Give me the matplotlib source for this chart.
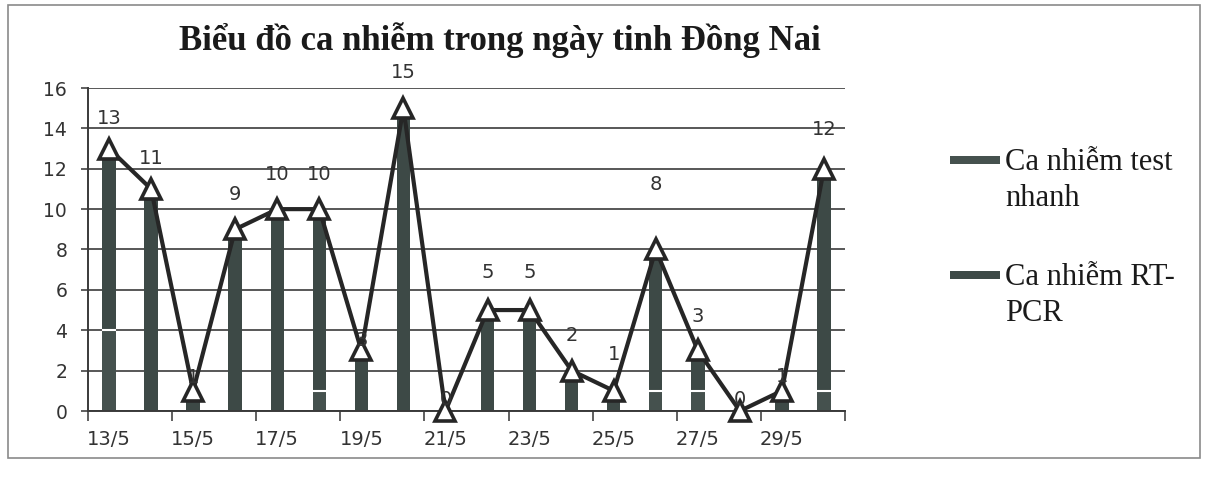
import numpy as np
import matplotlib.pyplot as plt
from matplotlib.patches import Rectangle

# dữ liệu
days = ['13/5', '14/5', '15/5', '16/5', '17/5', '18/5', '19/5', '20/5', '21/5',
        '22/5', '23/5', '24/5', '25/5', '26/5', '27/5', '28/5', '29/5', '30/5']
total = [13, 11, 1, 9, 10, 10, 3, 15, 0, 5, 5, 2, 1, 8, 3, 0, 1, 12]
test_nhanh = [4, 0, 0, 0, 0, 1, 0, 0, 0, 0, 0, 0, 0, 1, 1, 0, 0, 1]
rt_pcr = [t - q for t, q in zip(total, test_nhanh)]
series_names = ['Ca nhiễm test\nnhanh', 'Ca nhiễm RT-\nPCR']

# dịch nhãn số liệu lên trên (px) - nhãn trong bản gốc được kéo tay
label_dy = [30, 30, 13, 35, 35, 35, 10, 36, 12, 38, 38, 35, 36, 65, 34, 12, 14, 39]

W, H = 1207, 486
fig = plt.figure(figsize=(W / 100, H / 100), dpi=100)
fig.patch.set_facecolor('white')
fig.add_artist(Rectangle((8 / W, 1 - 458 / H), 1192 / W, 453 / H,
                         transform=fig.transFigure, fill=False,
                         edgecolor='#8a8a8a', linewidth=1.2))

ax = fig.add_axes([88 / W, 1 - 411 / H, (845 - 88) / W, (411 - 88) / H])

x = np.arange(len(days))
colors = ['#45514e', '#3d4946']
w = 0.32
ax.bar(x, test_nhanh, width=w, color=colors[0], zorder=2)
ax.bar(x, rt_pcr, width=w, bottom=test_nhanh, color=colors[1], zorder=2)

# vạch trắng giữa hai phần cột
tn = np.array(test_nhanh)
rp = np.array(rt_pcr)
m = (tn > 0) & (rp > 0)
ax.hlines(tn[m], x[m] - w / 2, x[m] + w / 2, color='white', linewidth=1.5, zorder=3)

ax.plot(x, total, color='#262626', linewidth=3, marker='^', markersize=14,
        markerfacecolor='white', markeredgecolor='#262626', markeredgewidth=2.6,
        zorder=4, clip_on=False)

for xi, v, dy in zip(x, total, label_dy):
    ax.annotate(str(v), (xi, v), xytext=(0, dy * 0.72), textcoords='offset points',
                ha='center', va='center', fontsize=14, color='#333333',
                family='DejaVu Sans', zorder=6, annotation_clip=False)

ax.set_xlim(-0.5, len(days) - 0.5)
ax.set_ylim(0, 16)
ax.set_yticks(range(0, 17, 2))
ax.yaxis.grid(True, color='#4a4a4a', linewidth=1.3)
ax.set_axisbelow(True)

ax.set_xticks(x[::2])
ax.set_xticklabels(days[::2])
ax.set_xticks(np.arange(-0.5, len(days), 2), minor=True)
ax.tick_params(axis='x', which='major', length=0, pad=14, labelsize=14,
               colors='#333333')
ax.tick_params(axis='x', which='minor', length=7, width=1.2, color='#444444')
ax.tick_params(axis='y', length=5, width=1.2, color='#444444', labelsize=13.5,
               labelcolor='#333333', pad=10)

for s in ['top', 'right']:
    ax.spines[s].set_visible(False)
for s in ['left', 'bottom']:
    ax.spines[s].set_color('#3a3a3a')
    ax.spines[s].set_linewidth(1.4)
    ax.spines[s].set_zorder(3)

fig.text(500 / W, 1 - 40 / H, 'Biểu đồ ca nhiễm trong ngày tinh Đồng Nai',
         ha='center', va='center', fontsize=25, fontweight='bold',
         family='Liberation Serif', color='#1a1a1a')

# chú thích: ô màu nằm ngang dòng đầu của nhãn
for i, (name, c) in enumerate(zip(series_names, colors)):
    y0 = 1 - (160 + i * 115) / H
    fig.add_artist(Rectangle((950 / W, y0 - 4 / H), 50 / W, 8 / H,
                             transform=fig.transFigure, facecolor=c,
                             edgecolor='none'))
    fig.text(1005 / W, y0 + 12 / H, name, ha='left', va='top',
             fontsize=22, family='Liberation Serif', color='#1a1a1a',
             linespacing=1.3)

fig.savefig('out.png', dpi=100)
